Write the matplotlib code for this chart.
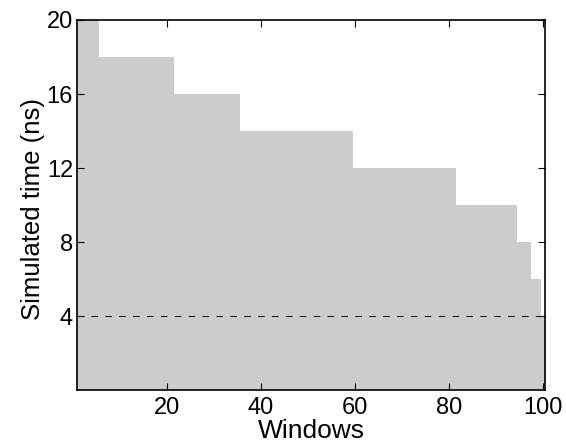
import numpy as np
import matplotlib
matplotlib.use("Agg")
import matplotlib.pyplot as plt

plt.rcParams['font.family'] = ['Liberation Sans', 'DejaVu Sans']

# simulated time level per run of windows, and how many windows share it
levels = [20, 18, 16, 14, 12, 10, 8, 6, 4]
run_lengths = [5, 16, 14, 24, 22, 13, 3, 2, 1]
sim_time = np.repeat(levels, run_lengths)
windows = np.arange(1, len(sim_time) + 1)
min_time = 4

fig = plt.figure(figsize=(5.66, 4.47), dpi=100)
ax = fig.add_axes([0.1352, 0.1264, 0.8269, 0.8289])

edges = np.append(windows - 0.5, windows[-1] + 0.5)
ax.stairs(sim_time, edges, fill=True, color='#cccccc', linewidth=0)
ax.axhline(min_time, color='#222222', linestyle=(0, (6, 6.5)), linewidth=0.8)

ax.set_xlim(0.75, 100.3)
ax.set_ylim(0, 20)
ax.set_xticks([20, 40, 60, 80, 100])
ax.set_yticks([4, 8, 12, 16, 20])
ax.tick_params(direction='in', top=True, right=True, labelsize=17, length=5, width=0.8)
ax.tick_params(axis='x', pad=5)
ax.tick_params(axis='y', pad=2.5)
for s in ax.spines.values():
    s.set_linewidth(1.2)

ax.set_xlabel("Windows", fontsize=19)
ax.set_ylabel("Simulated time (ns)", fontsize=18.5)
ax.xaxis.set_label_coords(0.501, -0.077)
ax.yaxis.set_label_coords(-0.068, 0.49)

fig.savefig("out.png", dpi=100)
